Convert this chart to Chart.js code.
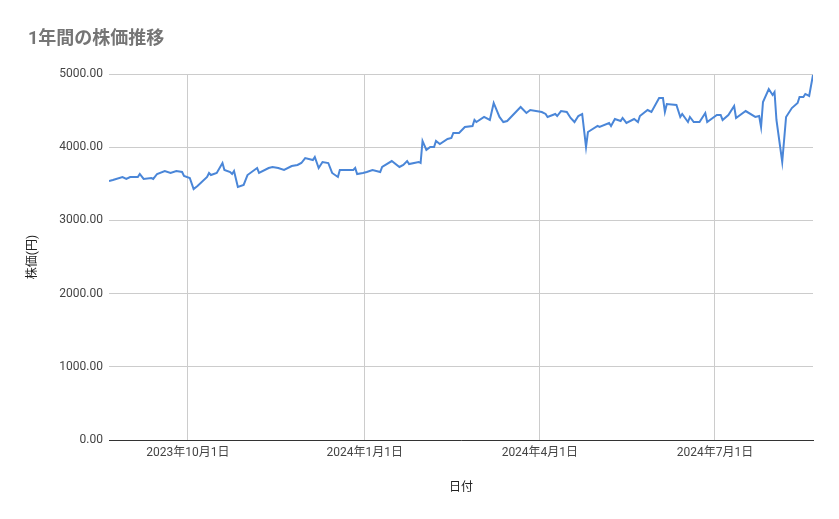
<!DOCTYPE html>
<html><head><meta charset="utf-8">
<script src="https://cdn.jsdelivr.net/npm/chart.js@4"></script>
<style>html,body{margin:0;background:#fff}#w{width:839px;height:519px}</style>
</head><body><div id="w"><canvas id="c"></canvas></div>
<script>
// days since 2023-08-21
const days = [0,2,7,9,11,15,16,18,22,23,25,29,32,35,38,39,42,44,46,51,52,53,56,59,60,63,64,65,67,70,72,77,78,83,85,88,91,95,98,100,102,106,107,109,111,114,116,119,120,127,128,129,132,
134,137,141,142,147,151,153,155,156,161,162,163,165,167,169,170,172,176,178,179,182,185,189,190,191,195,198,200,203,205,207,214,217,219,225,227,228,232,233,235,238,240,242,244,246,248,
249,254,255,260,261,263,266,267,269,273,275,276,280,282,286,288,289,290,295,297,298,301,302,304,307,310,311,316,318,319,322,325,326,331,336,338,339,340,343,345,346,347,350,352,355,358,359,361,362,364,366];
const prices = [3538,3552,3593,3566,3593,3593,3634,3566,3579,3566,3634,3675,3648,3675,3661,3607,3579,3429,3470,3593,3648,3620,3648,3784,3689,3661,3634,3675,3456,3484,3620,3716,3648,3716,3730,3716,3689,3743,3757,3784,3852,3825,3866,3716,3798,3784,3648,3593,3689,3689,3716,3634,3648,
3661,3689,3661,3730,3811,3730,3757,3811,3770,3798,3784,4085,3962,4003,4003,4085,4044,4112,4126,4194,4194,4276,4290,4372,4344,4413,4372,4604,4413,4344,4358,4549,4467,4508,4481,4454,4413,4454,4426,4494,4481,4399,4344,4426,4454,4003,
4208,4290,4276,4331,4290,4385,4358,4399,4331,4385,4344,4426,4508,4481,4672,4672,4481,4590,4576,4413,4454,4344,4413,4344,4344,4467,4344,4440,4440,4372,4440,4563,4399,4494,4413,4426,4276,4617,4795,4713,4754,4372,3798,4413,4535,4604,4686,4686,4727,4700,4986];
const tickDays = [41,133,224,315];
const tickLabels = ['2023年10月1日','2024年1月1日','2024年4月1日','2024年7月1日'];
const titleText = '1年間の株価推移';

const titlePlugin = {id:'t', afterDraw(ch){const c=ch.ctx;c.save();c.fillStyle='#757575';c.font='bold 18px Roboto, "Noto Sans CJK JP", sans-serif';c.textBaseline='middle';c.fillText(titleText,28,39);c.restore();}};
const F = 'Roboto, "Noto Sans CJK JP", sans-serif';
new Chart(document.getElementById('c'), {
  type:'line',
  data:{datasets:[{data:days.map((d,i)=>({x:d,y:prices[i]})),borderColor:'#4a86d8',borderWidth:2,pointRadius:0,tension:0}]},
  options:{responsive:true,maintainAspectRatio:false,animation:false,
    layout:{padding:{left:26,right:26,top:74,bottom:24}},
    plugins:{legend:{display:false},tooltip:{enabled:false}},
    scales:{
      x:{type:'linear',min:0,max:366,
        afterBuildTicks(s){s.ticks=tickDays.map(v=>({value:v}));},
        afterFit(s){s.height=55;},
        ticks:{autoSkip:false,maxRotation:0,color:'#444',font:{family:F,size:12},padding:6,callback(v){const i=tickDays.indexOf(v);return i>=0?tickLabels[i]:'';}},
        grid:{color:'#cccccc',drawTicks:false},border:{color:'#333'},
        title:{display:true,text:'日付',color:'#222',font:{family:F,size:12},padding:{top:0,bottom:0}}},
      y:{min:0,max:5000,
        afterFit(s){s.width=83;},
        ticks:{stepSize:1000,color:'#444',font:{family:F,size:12},padding:6,callback:v=>v.toFixed(2)},
        grid:{color:'#cccccc',drawTicks:false},border:{display:false},
        title:{display:true,text:'株価(円)',color:'#222',font:{family:F,size:12},padding:{top:0,bottom:0}}}
    }},
  plugins:[titlePlugin]
});
</script></body></html>
